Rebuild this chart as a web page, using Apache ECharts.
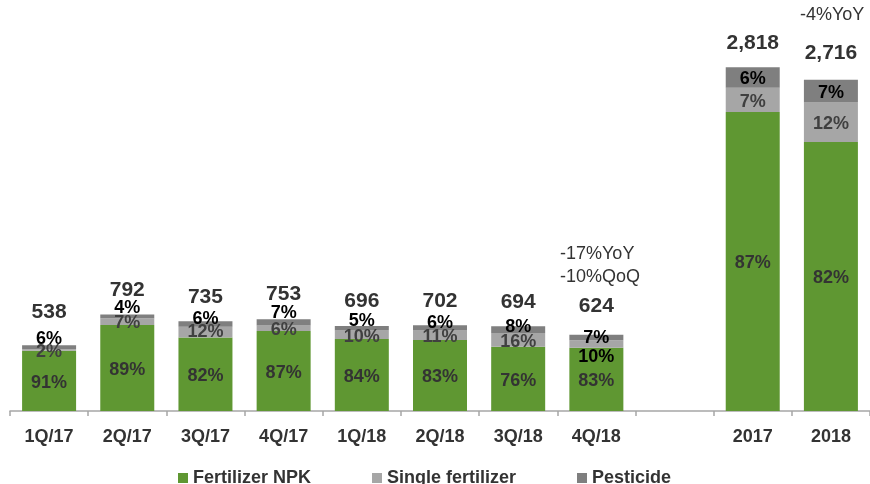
<!DOCTYPE html>
<html>
<head>
<meta charset="utf-8">
<script src="https://cdn.jsdelivr.net/npm/echarts@6/dist/echarts.min.js"></script>
<style>
  html, body { margin: 0; padding: 0; background: #fff; }
  #chart { width: 870px; height: 484px; }
</style>
</head>
<body>
<div id="chart"></div>
<script>
// 数据
const categories = ['1Q/17', '2Q/17', '3Q/17', '4Q/17', '1Q/18', '2Q/18', '3Q/18', '4Q/18', '', '2017', '2018']
const totals = [538, 792, 735, 753, 696, 702, 694, 624, null, 2818, 2716]
const npkPct = [91, 89, 82, 87, 84, 83, 76, 83, null, 87, 82]
const singlePct = [2, 7, 12, 6, 10, 11, 16, 10, null, 7, 12]
const pesticidePct = [6, 4, 6, 7, 5, 6, 8, 7, null, 6, 7]

// 标签微调（像素）
const pestLabelDy = [-8, -8, -5, -9, -7, -5, -3, 0, 0, 2, 2]
const singleLabelDy = [2, 1, 0, 2, 2, 2, 2, 13, 0, 2, 2]
const totalLabelDy = [-9, 0, 0, 0, 0, 0, 0, -4, 0, 0, -2]

const GREEN = '#5f9732'
const LIGHT = '#a6a6a6'
const DARK = '#7f7f7f'

function segData(pcts, dys, colors) {
  return categories.map((c, i) => {
    if (totals[i] == null) return '-'
    const sum = npkPct[i] + singlePct[i] + pesticidePct[i]
    const item = {
      value: totals[i] * pcts[i] / sum,
      pct: pcts[i],
      label: { offset: [0, dys ? dys[i] : 2] }
    }
    if (colors && colors[i]) item.label.color = colors[i]
    return item
  })
}

const singleColors = categories.map((c, i) => i === 7 ? '#000' : null)

const font = 'Liberation Sans, Arial, sans-serif'

const pctLabel = (color) => ({
  show: true,
  position: 'inside',
  fontFamily: font,
  fontWeight: 'bold',
  fontSize: 18,
  color: color,
  formatter: p => p.data.pct + '%'
})

const legendText = { fontFamily: font, fontWeight: 'bold', fontSize: 18, color: '#333' }
const legendBase = { top: 464, icon: 'rect', itemWidth: 10, itemHeight: 10, itemGap: 0, textStyle: legendText }

const chart = echarts.init(document.getElementById('chart'))
chart.setOption({
  animation: false,
  color: [GREEN, LIGHT, DARK],
  grid: { left: 10, right: -4, top: 45, bottom: 73 },
  legend: [
    Object.assign({ left: 173, data: ['Fertilizer NPK'] }, legendBase),
    Object.assign({ left: 367, data: ['Single fertilizer'] }, legendBase),
    Object.assign({ left: 572, data: ['Pesticide'] }, legendBase)
  ],
  xAxis: {
    type: 'category',
    data: categories,
    axisLine: { lineStyle: { color: '#a6a6a6', width: 1.5 } },
    axisTick: { show: true, length: 5, lineStyle: { color: '#a6a6a6', width: 1.5 } },
    axisLabel: { fontFamily: font, fontWeight: 'bold', fontSize: 18, color: '#333', margin: 17 }
  },
  yAxis: {
    type: 'value',
    min: 0,
    max: 3000,
    show: false,
    splitLine: { show: false }
  },
  series: [
    {
      name: 'Fertilizer NPK',
      type: 'bar',
      stack: 'total',
      barWidth: 54,
      data: segData(npkPct),
      label: pctLabel('#333')
    },
    {
      name: 'Single fertilizer',
      type: 'bar',
      stack: 'total',
      barWidth: 54,
      data: segData(singlePct, singleLabelDy, singleColors),
      label: pctLabel('#404040')
    },
    {
      name: 'Pesticide',
      type: 'bar',
      stack: 'total',
      barWidth: 54,
      data: segData(pesticidePct, pestLabelDy),
      label: pctLabel('#000')
    },
    {
      // 总量标签：叠加在柱顶的零高度柱
      name: 'total',
      type: 'bar',
      stack: 'total',
      barWidth: 54,
      itemStyle: { color: 'transparent' },
      data: totals.map((v, i) => v == null ? '-' : { value: 0, total: v, label: { offset: [0, totalLabelDy[i]] } }),
      label: {
        show: true,
        position: 'top',
        distance: 14,
        fontFamily: font,
        fontWeight: 'bold',
        fontSize: 21,
        color: '#333',
        formatter: p => p.data.total.toLocaleString('en-US')
      },
      z: 5
    }
  ],
  graphic: [
    { type: 'text', left: 560, top: 245, style: { text: '-17%YoY', fontFamily: font, fontSize: 18, fill: '#333' } },
    { type: 'text', left: 560, top: 268, style: { text: '-10%QoQ', fontFamily: font, fontSize: 18, fill: '#333' } },
    { type: 'text', left: 800, top: 6, style: { text: '-4%YoY', fontFamily: font, fontSize: 18, fill: '#333' } }
  ]
})
</script>
</body>
</html>
